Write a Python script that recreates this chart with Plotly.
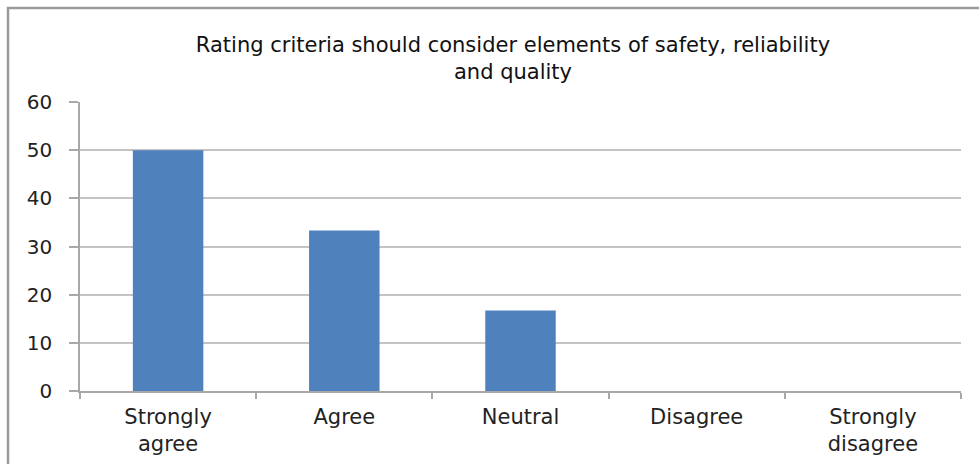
import plotly.graph_objects as go

categories = ["Strongly<br>agree", "Agree", "Neutral", "Disagree", "Strongly<br>disagree"]
percentages = [50, 33.3, 16.7, 0, 0]
y_ticks = [0, 10, 20, 30, 40, 50, 60]
title_text = "Rating criteria should consider elements of safety, reliability<br>and quality"

FONT = "DejaVu Sans, Verdana, sans-serif"

fig = go.Figure(
    go.Bar(
        x=categories,
        y=percentages,
        marker=dict(color="#4F81BD", line=dict(width=0)),
        width=0.4,
    )
)

fig.update_layout(
    width=979,
    height=464,
    margin=dict(l=80, r=18, t=102, b=73),
    paper_bgcolor="white",
    plot_bgcolor="white",
    showlegend=False,
    font=dict(family=FONT, size=20, color="#222222"),
    title=dict(
        text=title_text,
        x=0.524,
        xanchor="center",
        y=0.889,
        yanchor="top",
        font=dict(family=FONT, size=21, color="#111111"),
    ),
    shapes=[
        # outer chart frame
        dict(
            type="rect", xref="paper", yref="paper",
            x0=-0.0817, x1=1.1, y0=-0.5, y1=1.325,
            line=dict(color="#9a9a9a", width=2.5), fillcolor="rgba(0,0,0,0)",
            layer="below",
        )
    ],
)

fig.update_yaxes(
    range=[0, 60],
    tickvals=y_ticks,
    automargin=False,
    showgrid=True,
    gridcolor="#c4c4c4",
    gridwidth=1.5,
    showline=True,
    linecolor="#a8a8a8",
    linewidth=1.5,
    ticks="outside",
    ticklen=9,
    tickcolor="#a8a8a8",
    tickwidth=1.5,
    ticklabelstandoff=13,
    tickfont=dict(family=FONT, size=20, color="#222222"),
    zeroline=False,
)

fig.update_xaxes(
    automargin=False,
    showline=True,
    linecolor="#a8a8a8",
    linewidth=1.5,
    ticks="outside",
    tickson="boundaries",
    ticklen=6,
    tickcolor="#a8a8a8",
    tickwidth=1.5,
    tickfont=dict(family=FONT, size=21, color="#222222"),
    ticklabelstandoff=6,
)

fig.write_html("out.html")
